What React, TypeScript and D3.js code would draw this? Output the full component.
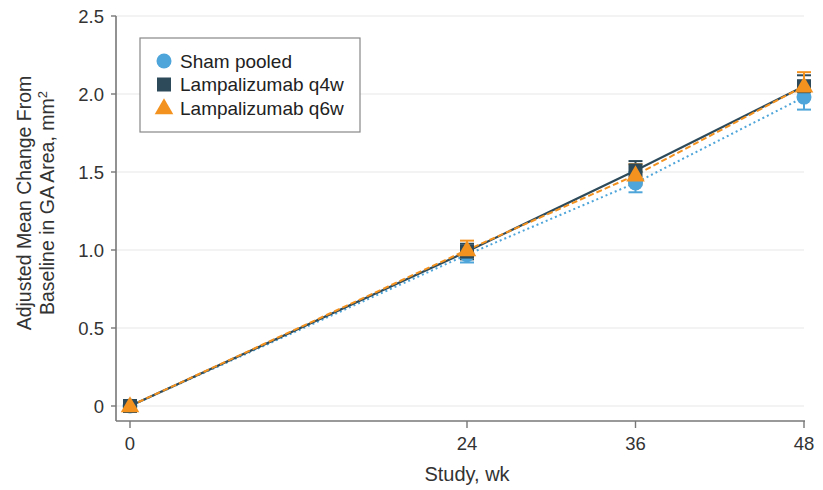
import React from "react";
import * as d3 from "d3";

const weeks = [0, 24, 36, 48];
const shamMean = [0, 0.97, 1.43, 1.98];
const shamLow = [0, 0.92, 1.37, 1.9];
const shamHigh = [0, 1.02, 1.5, 2.06];
const q4wMean = [0, 0.99, 1.51, 2.05];
const q4wLow = [0, 0.94, 1.44, 1.98];
const q4wHigh = [0, 1.04, 1.57, 2.12];
const q6wMean = [0, 1.0, 1.48, 2.05];
const q6wLow = [0, 0.95, 1.42, 1.97];
const q6wHigh = [0, 1.06, 1.55, 2.14];
const seriesNames = ["Sham pooled", "Lampalizumab q4w", "Lampalizumab q6w"];
const yTicks = [0, 0.5, 1.0, 1.5, 2.0, 2.5];
const yTickLabels = ["0", "0.5", "1.0", "1.5", "2.0", "2.5"];
const xTicks = [0, 24, 36, 48];

const FONT = "'Liberation Sans', Arial, sans-serif";
const colors = ["#4ea5d9", "#2d4a5a", "#f4921f"];
const dashes = ["2,3", null, "6,3"];

export default function App() {
  const x = d3.scaleLinear().domain([0, 48]).range([130, 804]);
  const y = d3.scaleLinear().domain([0, 2.5]).range([406, 16]);
  const axisX = 116;
  const axisY = 421;
  const series = [
    { name: seriesNames[0], mean: shamMean, lo: shamLow, hi: shamHigh },
    { name: seriesNames[1], mean: q4wMean, lo: q4wLow, hi: q4wHigh },
    { name: seriesNames[2], mean: q6wMean, lo: q6wLow, hi: q6wHigh },
  ];
  const line = d3
    .line<number>()
    .x((_, i) => x(weeks[i]))
    .y((d) => y(d));

  const marker = (k: number, cx: number, cy: number, key: string) => {
    if (k === 0) return <circle key={key} cx={cx} cy={cy} r={7.5} fill={colors[0]} />;
    if (k === 1)
      return <rect key={key} x={cx - 7} y={cy - 7} width={14} height={14} fill={colors[1]} />;
    const s = d3.symbol(d3.symbolTriangle, 150)();
    return <path key={key} d={s || ""} transform={`translate(${cx},${cy + 1})`} fill={colors[2]} />;
  };

  return (
    <svg width={823} height={490} style={{ display: "block", position: "absolute", left: 0, top: 0 }}>
      <rect width={823} height={490} fill="#fff" />
      {yTicks.map((t) => (
        <line key={"g" + t} x1={axisX} x2={804} y1={y(t)} y2={y(t)} stroke="#e8e8e8" strokeWidth={1.2} />
      ))}
      <line x1={axisX} x2={axisX} y1={y(2.5)} y2={axisY} stroke="#777" strokeWidth={1.6} />
      <line x1={axisX} x2={805} y1={axisY} y2={axisY} stroke="#777" strokeWidth={1.6} />
      {yTicks.map((t, i) => (
        <g key={"yt" + t}>
          <line x1={axisX - 5} x2={axisX} y1={y(t)} y2={y(t)} stroke="#777" strokeWidth={1.4} />
          <text x={axisX - 12} y={y(t) + 6.5} textAnchor="end" fontFamily={FONT} fontSize={18.5} fill="#333">
            {yTickLabels[i]}
          </text>
        </g>
      ))}
      {xTicks.map((t) => (
        <g key={"xt" + t}>
          <line x1={x(t)} x2={x(t)} y1={axisY} y2={axisY + 7} stroke="#777" strokeWidth={1.4} />
          <text x={x(t)} y={450} textAnchor="middle" fontFamily={FONT} fontSize={18.5} fill="#333">
            {t}
          </text>
        </g>
      ))}
      <text x={467} y={481} textAnchor="middle" fontFamily={FONT} fontSize={20} fill="#333">
        Study, wk
      </text>
      <text transform="translate(31,203) rotate(-90)" textAnchor="middle" fontFamily={FONT} fontSize={19.5} fill="#333">
        Adjusted Mean Change From
      </text>
      <text transform="translate(54,203) rotate(-90)" textAnchor="middle" fontFamily={FONT} fontSize={19.5} fill="#333">
        Baseline in GA Area, mm
        <tspan dy={-7} fontSize={13}>2</tspan>
      </text>

      {series.map((s, k) => (
        <path
          key={"l" + k}
          d={line(s.mean) || ""}
          fill="none"
          stroke={colors[k]}
          strokeWidth={k === 1 ? 2.2 : 2}
          strokeDasharray={dashes[k] || undefined}
        />
      ))}
      {series.map((s, k) =>
        weeks.map((w, i) =>
          i === 0 ? null : (
            <g key={"e" + k + i} stroke={colors[k]} strokeWidth={2}>
              <line x1={x(w)} x2={x(w)} y1={y(s.lo[i])} y2={y(s.hi[i])} />
              <line x1={x(w) - 7} x2={x(w) + 7} y1={y(s.lo[i])} y2={y(s.lo[i])} />
              <line x1={x(w) - 7} x2={x(w) + 7} y1={y(s.hi[i])} y2={y(s.hi[i])} />
            </g>
          )
        )
      )}
      {series.map((s, k) => weeks.map((w, i) => marker(k, x(w), y(s.mean[i]), "m" + k + i)))}

      <rect x={140} y={38} width={220} height={94} fill="#fff" stroke="#888" strokeWidth={1.2} />
      {seriesNames.map((n, k) => (
        <g key={"lg" + k}>
          {marker(k, 164, 61 + k * 23.5, "lm" + k)}
          <text x={180} y={67.5 + k * 23.5} fontFamily={FONT} fontSize={19} fill="#222">
            {n}
          </text>
        </g>
      ))}
    </svg>
  );
}
